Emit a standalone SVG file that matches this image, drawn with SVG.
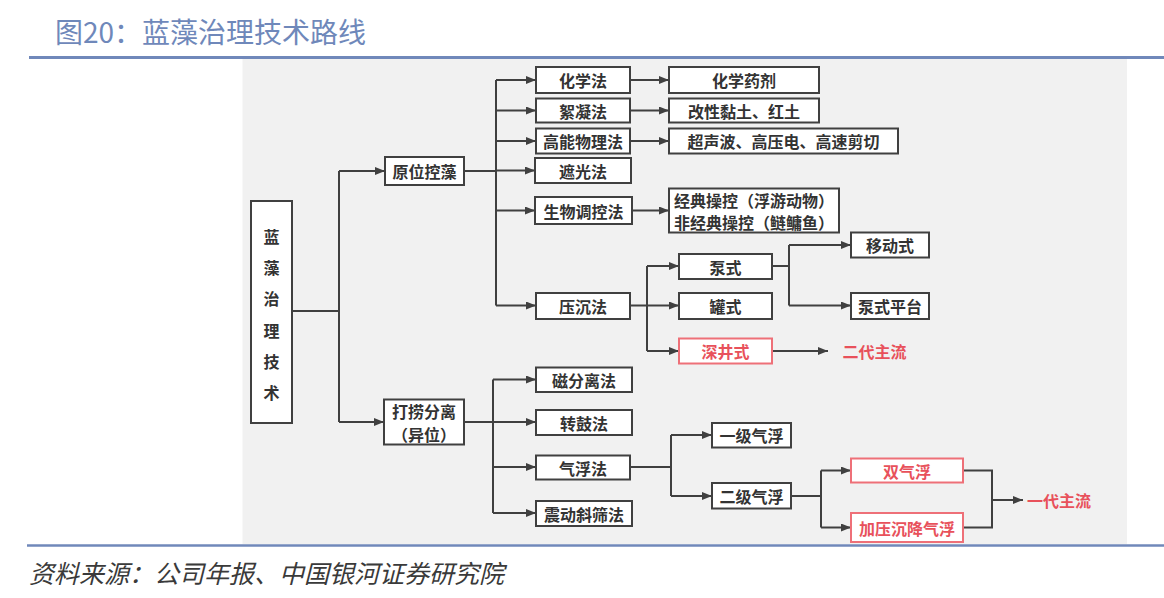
<svg xmlns="http://www.w3.org/2000/svg" width="1164" height="598" viewBox="0 0 1164 598">
<defs>
<marker id="ar" markerUnits="userSpaceOnUse" markerWidth="11" markerHeight="8" refX="10" refY="4" orient="auto">
<path d="M0,0 L10,4 L0,8 z" fill="#404040"/>
</marker>
<style>
.n rect{fill:#fff;stroke:#404040;stroke-width:2}
.r rect{fill:#fff;stroke:#EE7078;stroke-width:2}
.t{font-family:"Noto Sans CJK SC","Noto Sans",sans-serif;font-weight:700;font-size:16px;fill:#333;text-anchor:middle;dominant-baseline:central}
.r .t,.rt{fill:#E8515B}
.c path{fill:none;stroke:#404040;stroke-width:2}
.c .a{marker-end:url(#ar)}
</style>
</defs>
<rect x="0" y="0" width="1164" height="598" fill="#fff"/>
<text x="55" y="31" font-family="Noto Sans CJK SC,sans-serif" font-size="28" fill="#6F88BA" dominant-baseline="central">图20：蓝藻治理技术路线</text>
<rect x="242.5" y="59" width="884.5" height="485" fill="#F1F1F1"/>
<line x1="29" y1="57.5" x2="1164" y2="57.5" stroke="#7088BA" stroke-width="3"/>
<line x1="27" y1="545.5" x2="1164" y2="545.5" stroke="#7088BA" stroke-width="2.5"/>
<text x="29" y="572" font-family="Noto Sans CJK SC,sans-serif" font-size="25" font-style="italic" fill="#3a3a3a" dominant-baseline="central">资料来源：公司年报、中国银河证券研究院</text>

<g class="c" id="connectors">
<path d="M292,311 H339 M339,171 V422"/>
<path class="a" d="M339,171 H385"/>
<path class="a" d="M339,422 H384"/>
<path d="M464,171 H496 M496,80 V305.5"/>
<path class="a" d="M496,80 H536"/>
<path class="a" d="M496,110.5 H536"/>
<path class="a" d="M496,141 H536"/>
<path class="a" d="M496,170.5 H535"/>
<path class="a" d="M496,210.5 H535"/>
<path class="a" d="M496,305.5 H536"/>
<path class="a" d="M630,80 H669"/>
<path class="a" d="M630,110.5 H669"/>
<path class="a" d="M630,141 H669"/>
<path class="a" d="M632,210.5 H669"/>
<path d="M630,305.5 H647 M647,266 V351"/>
<path class="a" d="M647,266 H679"/>
<path class="a" d="M647,305.5 H679"/>
<path class="a" d="M647,351 H679"/>
<path d="M772,266 H789 M789,245 V305.5"/>
<path class="a" d="M789,245 H851"/>
<path class="a" d="M789,305.5 H851"/>
<path class="a" d="M772,351 H828"/>
<path d="M464,422 H493 M493,379.5 V513"/>
<path class="a" d="M493,379.5 H536"/>
<path class="a" d="M493,422 H536"/>
<path class="a" d="M493,467 H536"/>
<path class="a" d="M493,513 H536"/>
<path d="M630,467 H671 M671,435 V496"/>
<path class="a" d="M671,435 H712"/>
<path class="a" d="M671,496 H712"/>
<path d="M791,496 H821 M821,470.5 V527.5"/>
<path class="a" d="M821,470.5 H851"/>
<path class="a" d="M821,527.5 H851"/>
<path d="M963,470.5 H992 V527.5 H963"/>
<path class="a" d="M992,500 H1023"/>
</g>

<g class="n" id="root"><rect x="251" y="201" width="41" height="222"/>
<text class="t" x="271.5" y="236">蓝</text><text class="t" x="271.5" y="267">藻</text><text class="t" x="271.5" y="298">治</text><text class="t" x="271.5" y="329.5">理</text><text class="t" x="271.5" y="360.5">技</text><text class="t" x="271.5" y="391.5">术</text></g>
<g class="n" id="yuanwei"><rect x="385" y="157" width="79" height="28"/><text class="t" x="424.5" y="171">原位控藻</text></g>
<g class="n" id="dalao"><rect x="384" y="399.5" width="80" height="45"/><text class="t" font-size="15"><tspan x="424" y="411">打捞分离</tspan><tspan x="424" y="433.5">（异位）</tspan></text></g>
<g class="n" id="huaxuefa"><rect x="536" y="67" width="94" height="26"/><text class="t" x="583" y="80">化学法</text></g>
<g class="n" id="xuningfa"><rect x="536" y="98.5" width="94" height="24"/><text class="t" x="583" y="110.5">絮凝法</text></g>
<g class="n" id="gaoneng"><rect x="536" y="128.5" width="94" height="25"/><text class="t" x="583" y="141">高能物理法</text></g>
<g class="n" id="zheguang"><rect x="535" y="158" width="96" height="25"/><text class="t" x="583" y="170.5">遮光法</text></g>
<g class="n" id="shengwu"><rect x="535" y="197" width="97" height="27"/><text class="t" x="583.5" y="210.5">生物调控法</text></g>
<g class="n" id="yachen"><rect x="536" y="293" width="94" height="26"/><text class="t" x="583" y="306">压沉法</text></g>
<g class="n" id="yaoji"><rect x="669" y="67" width="150" height="26"/><text class="t" x="744" y="80">化学药剂</text></g>
<g class="n" id="niantu"><rect x="669" y="98.5" width="150" height="24"/><text class="t" x="744" y="110.5">改性黏土、红土</text></g>
<g class="n" id="chaosheng"><rect x="669" y="128.5" width="229" height="25"/><text class="t" x="783.5" y="141" font-size="16.5">超声波、高压电、高速剪切</text></g>
<g class="n" id="jingdian"><rect x="669" y="188.5" width="170" height="44"/><text class="t" font-size="14.5"><tspan x="754" y="199.5">经典操控（浮游动物）</tspan><tspan x="754" y="221.5">非经典操控（鲢鳙鱼）</tspan></text></g>
<g class="n" id="bengshi"><rect x="679" y="254" width="93" height="25"/><text class="t" x="725.5" y="266.5">泵式</text></g>
<g class="n" id="guanshi"><rect x="679" y="293" width="93" height="26"/><text class="t" x="725.5" y="306">罐式</text></g>
<g class="r" id="shenjing"><rect x="679" y="338.5" width="93" height="25"/><text class="t" x="725.5" y="351">深井式</text></g>
<g class="n" id="yidong"><rect x="851" y="232.5" width="78" height="25"/><text class="t" x="890" y="245">移动式</text></g>
<g class="n" id="pingtai"><rect x="851" y="293" width="78" height="26"/><text class="t" x="890" y="306">泵式平台</text></g>
<g id="erdai"><text class="t rt" x="874.5" y="351">二代主流</text></g>
<g class="n" id="cifenli"><rect x="536" y="367.5" width="96" height="24.5"/><text class="t" x="584" y="379.5">磁分离法</text></g>
<g class="n" id="zhuangu"><rect x="536" y="410" width="96" height="25"/><text class="t" x="584" y="422.5">转鼓法</text></g>
<g class="n" id="qifu"><rect x="536" y="455.5" width="94" height="24"/><text class="t" x="583" y="467.5">气浮法</text></g>
<g class="n" id="zhendong"><rect x="536" y="501" width="96" height="25"/><text class="t" x="584" y="513.5">震动斜筛法</text></g>
<g class="n" id="yiji"><rect x="712" y="423" width="79" height="24.5"/><text class="t" x="751.5" y="435">一级气浮</text></g>
<g class="n" id="erji"><rect x="712" y="483" width="79" height="25.5"/><text class="t" x="751.5" y="496">二级气浮</text></g>
<g class="r" id="shuangqifu"><rect x="851" y="458.5" width="112" height="24"/><text class="t" x="907" y="470.5">双气浮</text></g>
<g class="r" id="jiaya"><rect x="851" y="513" width="112" height="29"/><text class="t" x="907" y="527.5">加压沉降气浮</text></g>
<g id="yidai"><text class="t rt" x="1059" y="500" font-size="16.5">一代主流</text></g>
</svg>
